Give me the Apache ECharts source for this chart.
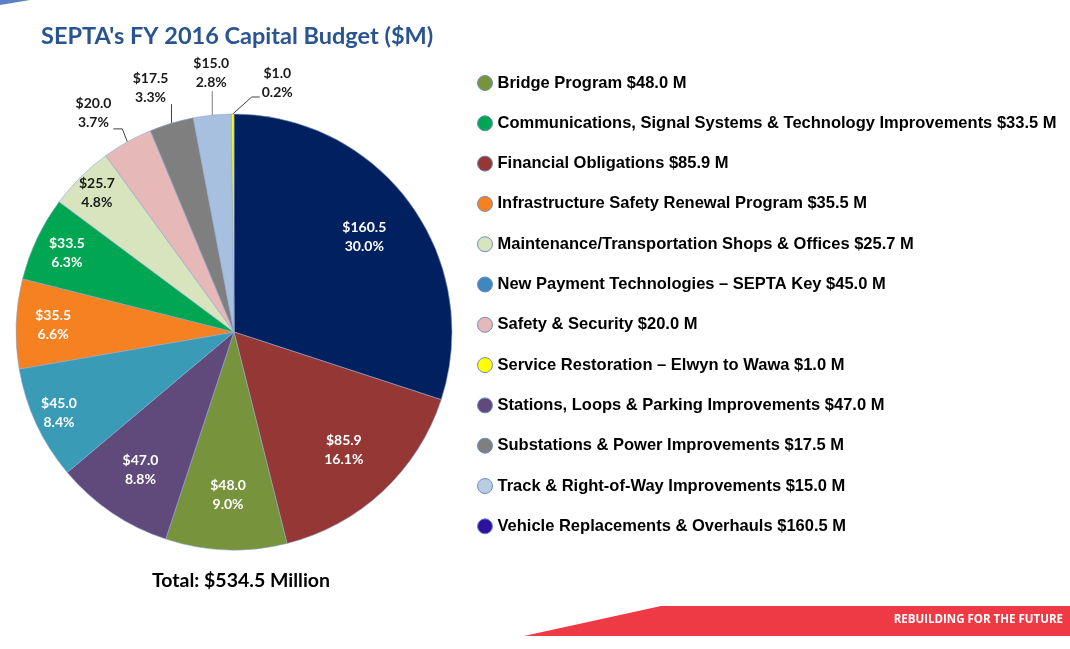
<!DOCTYPE html>
<html><head><meta charset="utf-8">
<script src="https://cdn.jsdelivr.net/npm/echarts@6/dist/echarts.min.js"></script>
<style>html,body{margin:0;padding:0;background:#fff}#c{width:1070px;height:649px}</style>
</head><body><div id="c"></div>
<script>
// ---- data ----
const categories = [
  'Vehicle Replacements & Overhauls',
  'Financial Obligations',
  'Bridge Program',
  'Stations, Loops & Parking Improvements',
  'New Payment Technologies – SEPTA Key',
  'Infrastructure Safety Renewal Program',
  'Communications, Signal Systems & Technology Improvements',
  'Maintenance/Transportation Shops & Offices',
  'Safety & Security',
  'Substations & Power Improvements',
  'Track & Right-of-Way Improvements',
  'Service Restoration – Elwyn to Wawa'
];
const values = [160.5, 85.9, 48.0, 47.0, 45.0, 35.5, 33.5, 25.7, 20.0, 17.5, 15.0, 1.0];
const titleText = "SEPTA's FY 2016 Capital Budget ($M)";
const totalText = 'Total: $534.5 Million';
const footerText = 'REBUILDING FOR THE FUTURE';

// ---- styles ----
const sliceColors = ['#002060','#953735','#77933C','#604A7B','#3A9BB7','#F68121','#00A651','#D7E4BD','#E6B9B8','#7F7F7F','#A7C0DF','#FFFF00'];
const legendColors = ['#2C129C','#953735','#77933C','#604A7B','#3F88BF','#F68121','#00A651','#D7E4BD','#E6B9B8','#7F7F7F','#B9CDE5','#FFFF00'];
// label placement style per slice: inside ring radius (px) or outside
const labelRing = [158,158,160,164,190,178,182,192,null,null,null,null];
const outsideCfg = {
  8:  {dx:-16, dy:-29, align:'right',  line:[[-5,-13],[-14,-13]]},
  9:  {dx:-3,  dy:-35, align:'right',  line:[[0,-19],[0,-19]]},
  10: {dx:-1,  dy:-42, align:'center', line:[[0,-24],[0,-24]]},
  11: {dx:29,  dy:-31, align:'left',   line:[[19,-17],[27,-17]]}
};
const CX = 234, CY = 332, R = 218;

const total = values.reduce((a,b)=>a+b,0);
const fmt = p => '$' + values[p.dataIndex].toFixed(1) + '\n' + (values[p.dataIndex]/total*100).toFixed(1) + '%';
const labelFont = {fontFamily:'Lato', fontWeight:'bold', fontSize:14, lineHeight:19};

const mainSeries = {
  type:'pie', center:[CX,CY], radius:[0,R], startAngle:90, clockwise:true,
  avoidLabelOverlap:false, silent:true,
  label:{show:false},
  labelLine:{show:false},
  itemStyle:{borderColor:'#8FA6D0', borderWidth:0.6},
  emphasis:{disabled:true},
  data: categories.map((n,i)=>{
    const d = {name:n, value:values[i], itemStyle:{color:sliceColors[i]}};
    if (outsideCfg[i]) {
      d.label = Object.assign({show:true, position:'outside', formatter:fmt, color:'#1a1a1a'}, labelFont);
      d.labelLine = {show:true, length:15, length2:5, lineStyle:{color: i===10 ? '#7f7f7f' : '#404040', width:1}};
    }
    return d;
  }),
  labelLayout: function (p) {
    const cfg = outsideCfg[p.dataIndex];
    if (!cfg || !p.labelLinePoints) return {};
    const p0 = p.labelLinePoints[0];
    const w = p.labelRect.width;
    let x = p0[0] + cfg.dx;
    if (cfg.align === 'right') x -= w/2; else if (cfg.align === 'left') x += w/2;
    return {
      x: x, y: p0[1] + cfg.dy, align:'center', verticalAlign:'middle',
      labelLinePoints: [p0].concat(cfg.line.map(d => [p0[0]+d[0], p0[1]+d[1]]))
    };
  }
};

// transparent overlay pies that only carry the inside labels at the desired ring
const rings = [...new Set(labelRing.filter(r=>r))];
const overlaySeries = rings.map(ring => ({
  type:'pie', center:[CX,CY], radius:[0, ring*2], startAngle:90, clockwise:true,
  silent:true, avoidLabelOverlap:false, emphasis:{disabled:true},
  itemStyle:{color:'rgba(0,0,0,0)', borderWidth:0},
  labelLine:{show:false},
  label:{show:false},
  data: categories.map((n,i)=>({
    name:n, value:values[i],
    label: Object.assign({show: labelRing[i]===ring, position:'inside', formatter:fmt,
      color: i===7 ? '#1a1a1a' : '#ffffff'}, labelFont)
  }))
}));

const legendOrder = categories.map((n,i)=>i).sort((a,b)=>categories[a].localeCompare(categories[b]));

const chart = echarts.init(document.getElementById('c'), null, {renderer:'canvas'});
chart.setOption({
  animation:false,
  backgroundColor:'#ffffff',
  title:[
    {text:titleText, left:36, top:19, textStyle:{fontFamily:'Lato', fontWeight:'bold', fontSize:23.5, color:'#2A5490'}},
    {text:totalText, left:236, top:566, textAlign:'center', textStyle:{fontFamily:'Lato', fontWeight:'bold', fontSize:19.5, color:'#000'}}
  ],
  legend:{
    orient:'vertical', left:472, top:69.5, itemWidth:15, itemHeight:15, itemGap:23.3, icon:'circle',
    selectedMode:false,
    data: legendOrder.map(i=>({name:categories[i], itemStyle:{color:legendColors[i], borderColor:'#6F8DC4', borderWidth:1}})),
    formatter: name => name + ' $' + values[categories.indexOf(name)].toFixed(1) + ' M',
    textStyle:{fontFamily:'Liberation Sans', fontWeight:'bold', fontSize:16.5, lineHeight:15, color:'#000'}
  },
  graphic:[
    {type:'polygon', shape:{points:[[0,0],[30,0],[0,5]]}, style:{fill:'#5B80C6'}, silent:true},
    {type:'polygon', shape:{points:[[524,636],[661,606],[1070,606],[1070,636]]}, style:{fill:'#EE3A45'}, silent:true},
    {type:'text', right:7, top:614, scaleX:0.96, originX:0,
      style:{text:footerText, fill:'#fff', font:'bold 12px "Open Sans"'}, silent:true}
  ],
  series:[mainSeries].concat(overlaySeries)
});
</script></body></html>
